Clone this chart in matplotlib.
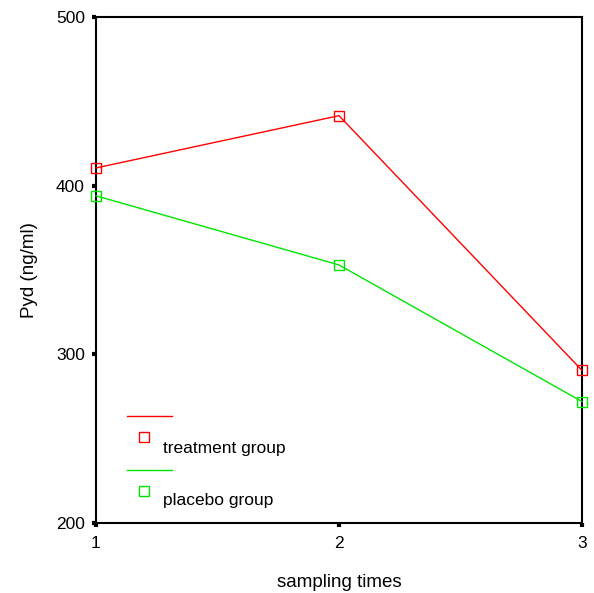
import matplotlib
matplotlib.use("Agg")
import matplotlib.pyplot as plt
from matplotlib.lines import Line2D

plt.rcParams['font.family'] = ['Liberation Sans', 'DejaVu Sans']

times = [1, 2, 3]
treatment = [410.5, 441.5, 290.5]
placebo = [394, 353, 272]
yticks = [200, 300, 400, 500]
labels = ["treatment group", "placebo group"]

fig = plt.figure(figsize=(5.94, 5.93), dpi=100)
ax = fig.add_axes([96/594, 1-523/593, (582-96)/594, (523-17)/593])

red = '#ff0000'
green = '#00e600'
ax.plot(times, treatment, color=red, lw=1.0, marker='s', mfc='none', mec=red, ms=7.5, mew=1.0, clip_on=False, zorder=3)
ax.plot(times, placebo, color=green, lw=1.0, marker='s', mfc='none', mec=green, ms=7.5, mew=1.0, clip_on=False, zorder=3)

ax.set_xlim(1, 3)
ax.set_ylim(200, 500)
ax.set_xticks(times)
ax.set_yticks(yticks)
ax.tick_params(direction='out', length=3, width=3, labelsize=12.5)
ax.tick_params(axis='x', pad=6)
ax.tick_params(axis='y', pad=5)
for s in ax.spines.values():
    s.set_linewidth(1.5)
ax.set_xlabel("sampling times", fontsize=13.5, labelpad=17)
ax.set_ylabel("Pyd (ng/ml)", fontsize=13.5, labelpad=13)

# custom legend (figure pixel coords)
def fx(px):
    return px/594
def fy(py):
    return 1-py/593

for col, ly, my, ty, lab in [(red, 416, 437, 449, labels[0]), (green, 470, 491, 500, labels[1])]:
    fig.add_artist(Line2D([fx(127), fx(172)], [fy(ly), fy(ly)], color=col, lw=1.0, transform=fig.transFigure))
    fig.add_artist(Line2D([fx(144)], [fy(my)], marker='s', mfc='none', mec=col, ms=7.5, mew=1.0, transform=fig.transFigure))
    fig.text(fx(163), fy(ty), lab, fontsize=12.5, va='center', ha='left')

fig.savefig("out.png", dpi=100)
